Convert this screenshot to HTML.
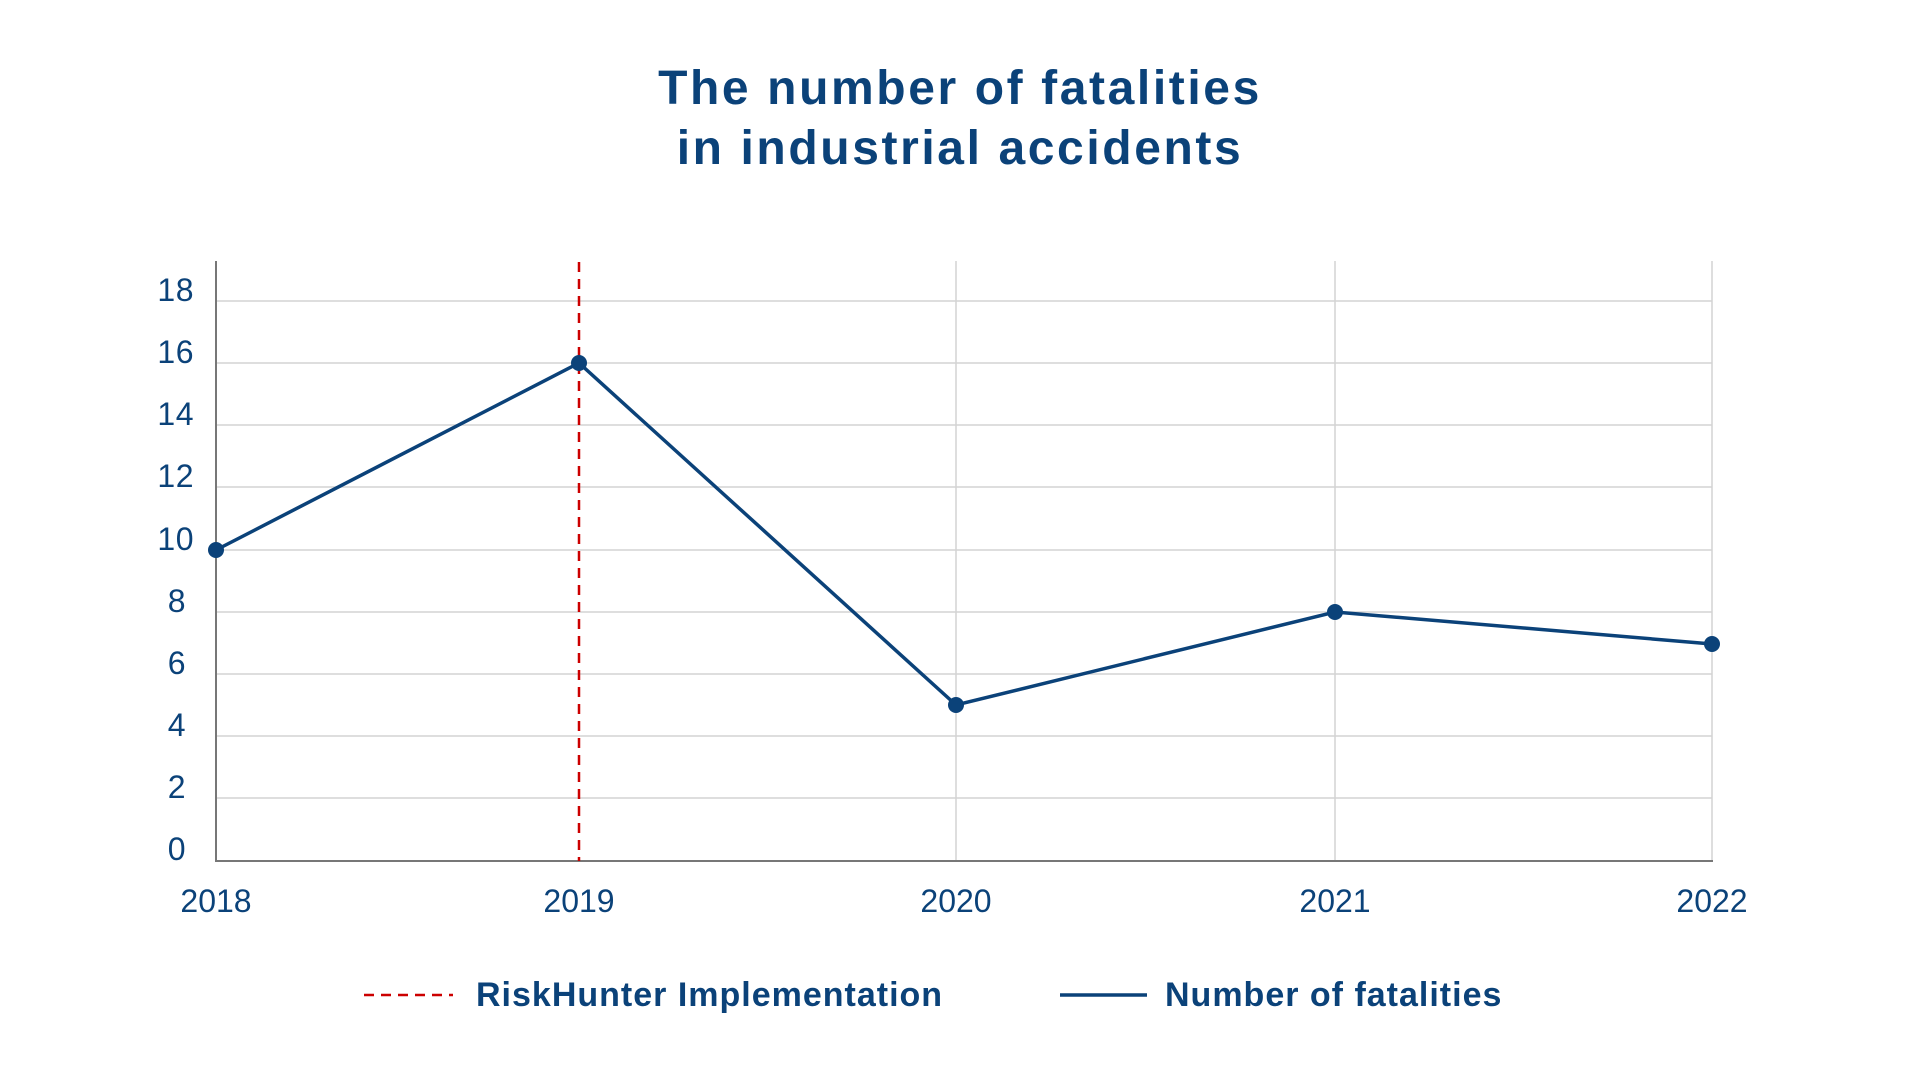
<!DOCTYPE html>
<html><head><meta charset="utf-8"><style>
html,body{margin:0;padding:0;background:#fff;}
svg{display:block;font-family:"Liberation Sans",sans-serif;}
</style></head><body>
<svg width="1920" height="1080" viewBox="0 0 1920 1080">
<g fill="#0b4279" font-weight="bold" font-size="48" text-anchor="middle" letter-spacing="2.6">
<text x="960" y="104">The number of fatalities</text>
<text x="960" y="164">in industrial accidents</text>
</g>
<g stroke="#d3d3d3" stroke-width="1.5">
<line x1="216" x2="1712" y1="301" y2="301"/>
<line x1="216" x2="1712" y1="363" y2="363"/>
<line x1="216" x2="1712" y1="425" y2="425"/>
<line x1="216" x2="1712" y1="487" y2="487"/>
<line x1="216" x2="1712" y1="550" y2="550"/>
<line x1="216" x2="1712" y1="612" y2="612"/>
<line x1="216" x2="1712" y1="674" y2="674"/>
<line x1="216" x2="1712" y1="736" y2="736"/>
<line x1="216" x2="1712" y1="798" y2="798"/>
<line x1="956" x2="956" y1="261" y2="861"/>
<line x1="1335" x2="1335" y1="261" y2="861"/>
<line x1="1712" x2="1712" y1="261" y2="861"/>
</g>
<g stroke="#777" stroke-width="2">
<line x1="216" x2="216" y1="261" y2="861"/>
<line x1="215" x2="1713" y1="861" y2="861"/>
</g>
<line x1="579" x2="579" y1="262" y2="861" stroke="#cc0000" stroke-width="2.5" stroke-dasharray="10,7"/>
<polyline points="216,550 579,363 956,705 1335,612 1712,644" fill="none" stroke="#0b4279" stroke-width="3.5"/>
<g fill="#0b4279">
<circle cx="216" cy="550" r="8"/><circle cx="579" cy="363" r="8"/><circle cx="956" cy="705" r="8"/><circle cx="1335" cy="612" r="8"/><circle cx="1712" cy="644" r="8"/>
</g>
<g fill="#0b4279" font-size="32" text-anchor="end" letter-spacing="0.5">
<text x="194" y="301">18</text><text x="194" y="363">16</text><text x="194" y="425">14</text>
<text x="194" y="487">12</text><text x="194" y="550">10</text><text x="186" y="612">8</text>
<text x="186" y="674">6</text><text x="186" y="736">4</text><text x="186" y="798">2</text><text x="186" y="860">0</text>
</g>
<g fill="#0b4279" font-size="32" text-anchor="middle">
<text x="216" y="912">2018</text><text x="579" y="912">2019</text><text x="956" y="912">2020</text>
<text x="1335" y="912">2021</text><text x="1712" y="912">2022</text>
</g>
<line x1="364" x2="453" y1="995" y2="995" stroke="#cc0000" stroke-width="2.5" stroke-dasharray="10,7"/>
<line x1="1060" x2="1147" y1="995" y2="995" stroke="#0b4279" stroke-width="3.5"/>
<g fill="#0b4279" font-size="34" font-weight="bold" letter-spacing="1">
<text x="476" y="1006">RiskHunter Implementation</text>
<text x="1165" y="1006">Number of fatalities</text>
</g>
</svg>
</body></html>
